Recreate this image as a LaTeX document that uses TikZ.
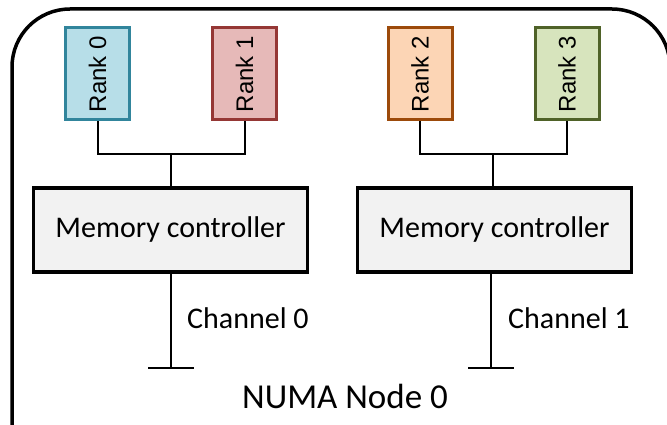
\documentclass[tikz,border=0pt]{standalone}
\usepackage{fontspec}
\newfontfamily\calib{Carlito}
\newfontfamily\arialf{Liberation Sans}
\definecolor{r0fill}{HTML}{B7DEE8}
\definecolor{r0draw}{HTML}{31859C}
\definecolor{r1fill}{HTML}{E6B9B8}
\definecolor{r1draw}{HTML}{953735}
\definecolor{r2fill}{HTML}{FCD5B5}
\definecolor{r2draw}{HTML}{9C4A0A}
\definecolor{r3fill}{HTML}{D7E4BD}
\definecolor{r3draw}{HTML}{4F6228}
\definecolor{mcfill}{HTML}{F2F2F2}
\begin{document}
\begin{tikzpicture}[x=1pt,y=-1pt,
  rankbox/.style={draw, line width=3pt, minimum width=64pt, minimum height=92pt, inner sep=0pt,
    font=\arialf\fontsize{24}{26}\selectfont},
  mcbox/.style={draw=black, fill=mcfill, line width=3.2pt, minimum width=274pt, minimum height=84pt, inner sep=0pt,
    font=\calib\fontsize{30}{34}\selectfont},
  wire/.style={line width=2pt},
  lbl/.style={font=\calib\fontsize{30}{34}\selectfont, inner sep=0pt}]
\useasboundingbox (0,0) rectangle (667,425);
\fill[white] (0,0) rectangle (667,425);
% outer frame
\draw[line width=3.5pt, rounded corners=58pt] (12,450) -- (12,9) -- (670,9) -- (670,450);
% ranks
\node[rankbox, fill=r0fill, draw=r0draw] (r0) at (97.5,74) {\rotatebox{90}{Rank 0}};
\node[rankbox, fill=r1fill, draw=r1draw] (r1) at (244.5,74) {\rotatebox{90}{Rank 1}};
\node[rankbox, fill=r2fill, draw=r2draw] (r2) at (420,74) {\rotatebox{90}{Rank 2}};
\node[rankbox, fill=r3fill, draw=r3draw] (r3) at (567,74) {\rotatebox{90}{Rank 3}};
% memory controllers
\node[mcbox] (mc1) at (170.5,230) {Memory controller};
\node[mcbox] (mc2) at (494.5,230) {Memory controller};
% junctions
\coordinate (j1) at (171,154);
\coordinate (j2) at (493,154);
\draw[wire] (r0.south) |- (j1) -| (r1.south);
\draw[wire] (j1) -- (j1 |- mc1.north);
\draw[wire] (r2.south) |- (j2) -| (r3.south);
\draw[wire] (j2) -- (j2 |- mc2.north);
% channels
\coordinate (c1) at (171,368);
\coordinate (c2) at (491,368);
\draw[wire] (c1 |- mc1.south) -- (c1);
\draw[wire] (c2 |- mc2.south) -- (c2);
\draw[line width=2.5pt] ([xshift=-23pt]c1) -- ([xshift=23pt]c1);
\draw[line width=2.5pt] ([xshift=-23pt]c2) -- ([xshift=23pt]c2);
\node[lbl, anchor=base west] (ch0) at (187,328) {Channel 0};
\node[lbl, anchor=base west] (ch1) at (508,328) {Channel 1};
\node[font=\calib\fontsize{35}{40}\selectfont, inner sep=0pt, anchor=base] (numa) at (345,408) {NUMA Node 0};
\end{tikzpicture}
\end{document}
